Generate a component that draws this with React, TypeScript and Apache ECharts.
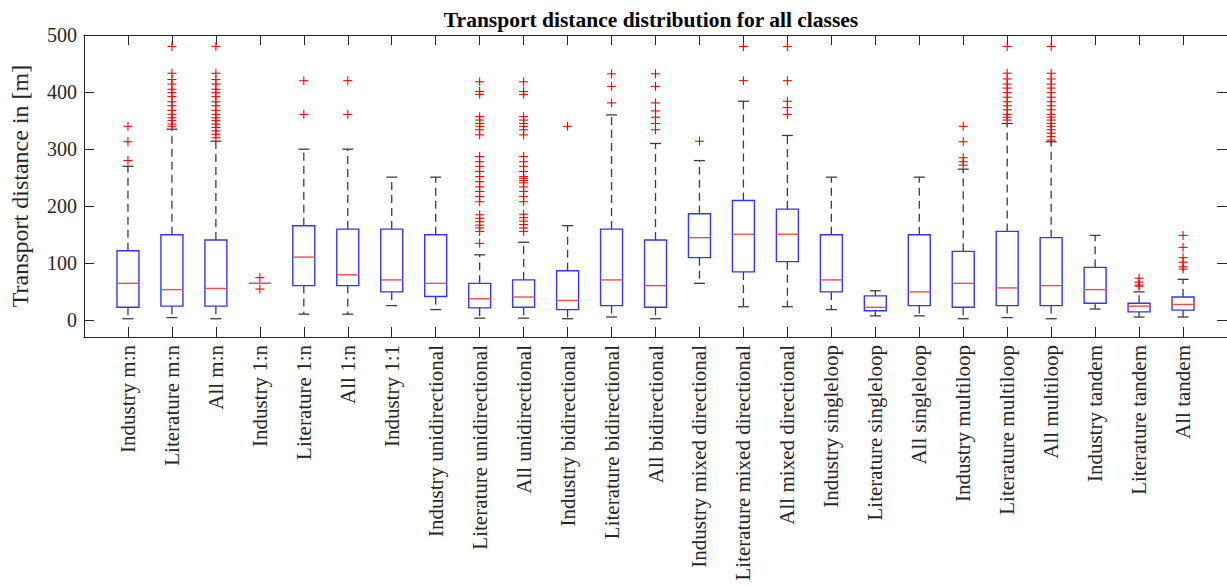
import React, { useEffect, useRef } from "react";
import * as echarts from "echarts";

const categories = [
  "Industry m:n", "Literature m:n", "All m:n",
  "Industry 1:n", "Literature 1:n", "All 1:n",
  "Industry 1:1",
  "Industry unidirectional", "Literature unidirectional", "All unidirectional",
  "Industry bidirectional", "Literature bidirectional", "All bidirectional",
  "Industry mixed directional", "Literature mixed directional", "All mixed directional",
  "Industry singleloop", "Literature singleloop", "All singleloop",
  "Industry multiloop", "Literature multiloop", "All multiloop",
  "Industry tandem", "Literature tandem", "All tandem",
];

const whiskerLow = [3, 5, 3, 65, 11, 11, 26, 19, 4, 4, 3, 6, 3, 65, 24, 24, 19, 8, 8, 3, 5, 3, 20, 6, 6];
const q1 = [23, 25, 25, 65, 61, 61, 50, 42, 22, 23, 19, 26, 23, 110, 85, 103, 50, 17, 26, 23, 26, 26, 30, 15, 18];
const median = [65, 54, 56, 65, 111, 80, 71, 65, 38, 41, 35, 71, 61, 145, 151, 151, 71, 23, 50, 65, 57, 61, 54, 25, 28];
const q3 = [122, 150, 141, 65, 166, 160, 160, 150, 65, 71, 87, 160, 141, 187, 210, 195, 150, 43, 150, 121, 156, 145, 93, 30, 41];
const whiskerHigh = [270, 335, 314, 65, 300, 300, 251, 251, 115, 137, 166, 360, 310, 280, 384, 324, 251, 52, 251, 265, 345, 313, 149, 50, 72];

const outliers: number[][] = [
  [280, 313, 340],
  [340, 344, 350, 355, 361, 368, 376, 383, 392, 399, 405, 414, 422, 433, 480],
  [320, 326, 332, 338, 344, 350, 355, 361, 368, 376, 383, 392, 399, 405, 414, 422, 433, 480],
  [55, 75],
  [361, 420],
  [361, 420],
  [],
  [],
  [135, 156, 162, 167, 173, 179, 185, 208, 217, 226, 234, 243, 252, 261, 270, 278, 287, 325, 334, 340, 345, 351, 357, 396, 401, 418],
  [156, 162, 168, 174, 180, 186, 208, 217, 226, 234, 241, 245, 249, 252, 261, 270, 278, 287, 325, 334, 340, 345, 351, 357, 396, 401, 418],
  [340],
  [381, 410, 432],
  [334, 345, 356, 367, 381, 410, 432],
  [314],
  [420, 480],
  [361, 373, 384, 420, 480],
  [],
  [],
  [],
  [272, 278, 285, 313, 340],
  [351, 356, 361, 369, 376, 383, 391, 399, 407, 414, 423, 433, 480],
  [316, 322, 328, 334, 340, 345, 351, 356, 361, 369, 376, 383, 391, 399, 407, 414, 423, 433, 480],
  [],
  [60, 62, 67, 74],
  [90, 94, 102, 110, 128, 149],
];

const yTicks = [0, 100, 200, 300, 400, 500];

const FONT = '"Liberation Serif", "Times New Roman", serif';
const TEXT = "#262626";
const AXIS = "#262626";

export default function App() {
  const ref = useRef<HTMLDivElement>(null);

  useEffect(() => {
    if (!ref.current) return;
    const chart = echarts.init(ref.current, undefined, { renderer: "svg" });

    const xData = ["", ...categories, ""];
    const boxData = categories.map((_, i) => [i + 1, whiskerLow[i], q1[i], median[i], q3[i], whiskerHigh[i]]);
    const outlierData: number[][] = [];
    outliers.forEach((arr, i) => arr.forEach((v) => outlierData.push([i + 1, v])));

    const yAxisCommon = {
      type: "value",
      min: -29,
      max: 500,
      splitLine: { show: false },
      axisLine: { show: true, onZero: false, lineStyle: { color: AXIS, width: 1 } },
      axisTick: { show: true, inside: true, length: 10, customValues: yTicks, lineStyle: { color: AXIS } },
    };

    const xAxisCommon = {
      type: "category",
      data: xData,
      boundaryGap: false,
      axisLine: { show: true, onZero: false, lineStyle: { color: AXIS, width: 1 } },
      axisTick: { show: true, inside: true, length: 10, interval: 0, lineStyle: { color: AXIS } },
      splitLine: { show: false },
    };

    chart.setOption({
      animation: false,
      backgroundColor: "#ffffff",
      grid: { left: 75, top: 35, right: 0, bottom: 249, containLabel: false },
      graphic: [
        {
          type: "text",
          x: 651,
          y: 20,
          style: {
            text: "Transport distance distribution for all classes",
            font: `bold 21.5px ${FONT}`,
            fill: "#000000",
            align: "center",
            verticalAlign: "middle",
          },
        },
      ],
      xAxis: [
        {
          ...xAxisCommon,
          position: "bottom",
          axisLabel: {
            interval: 0,
            rotate: 90,
            margin: 8,
            fontFamily: FONT,
            fontSize: 21,
            color: TEXT,
          },
        },
        {
          ...xAxisCommon,
          position: "top",
          axisLabel: { show: false },
        },
      ],
      yAxis: [
        {
          ...yAxisCommon,
          position: "left",
          name: "Transport distance in [m]",
          nameLocation: "middle",
          nameGap: 52,
          nameTextStyle: { fontFamily: FONT, fontSize: 24, color: TEXT },
          axisLabel: {
            show: true,
            customValues: yTicks,
            margin: 7,
            fontFamily: FONT,
            fontSize: 20,
            color: TEXT,
          },
        },
        {
          ...yAxisCommon,
          position: "right",
          axisLabel: { show: false },
        },
      ],
      series: [
        {
          type: "custom",
          name: "boxes",
          xAxisIndex: 0,
          yAxisIndex: 0,
          encode: { x: 0, y: [1, 2, 3, 4, 5] },
          data: boxData,
          renderItem: (params: any, api: any) => {
            const x = api.value(0);
            const lo = api.coord([x, api.value(1)]);
            const b1 = api.coord([x, api.value(2)]);
            const md = api.coord([x, api.value(3)]);
            const b3 = api.coord([x, api.value(4)]);
            const hi = api.coord([x, api.value(5)]);
            const band = api.size([1, 0])[0];
            const bw = band * 0.5;
            const cw = band * 0.25;
            const cx = lo[0];
            const whisk = { stroke: "#3c3c3c", lineWidth: 1.3, lineDash: [8, 5] };
            const cap = { stroke: "#3c3c3c", lineWidth: 1.3 };
            const children: any[] = [];
            if (hi[1] < b3[1]) {
              children.push({ type: "line", shape: { x1: cx, y1: b3[1], x2: cx, y2: hi[1] }, style: whisk });
              children.push({ type: "line", shape: { x1: cx - cw / 2, y1: hi[1], x2: cx + cw / 2, y2: hi[1] }, style: cap });
            }
            if (lo[1] > b1[1]) {
              children.push({ type: "line", shape: { x1: cx, y1: b1[1], x2: cx, y2: lo[1] }, style: whisk });
              children.push({ type: "line", shape: { x1: cx - cw / 2, y1: lo[1], x2: cx + cw / 2, y2: lo[1] }, style: cap });
            }
            children.push({
              type: "rect",
              shape: { x: cx - bw / 2, y: b3[1], width: bw, height: b1[1] - b3[1] },
              style: { fill: "none", stroke: "#3535ff", lineWidth: 1.4 },
            });
            children.push({
              type: "line",
              shape: { x1: cx - bw / 2, y1: md[1], x2: cx + bw / 2, y2: md[1] },
              style: { stroke: "#ff4a4a", lineWidth: 1.4 },
            });
            return { type: "group", children };
          },
        },
        {
          type: "custom",
          name: "outliers",
          xAxisIndex: 0,
          yAxisIndex: 0,
          encode: { x: 0, y: 1 },
          data: outlierData,
          renderItem: (params: any, api: any) => {
            const p = api.coord([api.value(0), api.value(1)]);
            const h = 4.5;
            const st = { stroke: "#ff0000", lineWidth: 1.1 };
            return {
              type: "group",
              children: [
                { type: "line", shape: { x1: p[0] - h, y1: p[1], x2: p[0] + h, y2: p[1] }, style: st },
                { type: "line", shape: { x1: p[0], y1: p[1] - h, x2: p[0], y2: p[1] + h }, style: st },
              ],
            };
          },
        },
      ],
    });

    return () => chart.dispose();
  }, []);

  return (
    <div
      ref={ref}
      style={{ position: "fixed", left: 0, top: 0, width: 1227, height: 586, background: "#fff" }}
    />
  );
}
